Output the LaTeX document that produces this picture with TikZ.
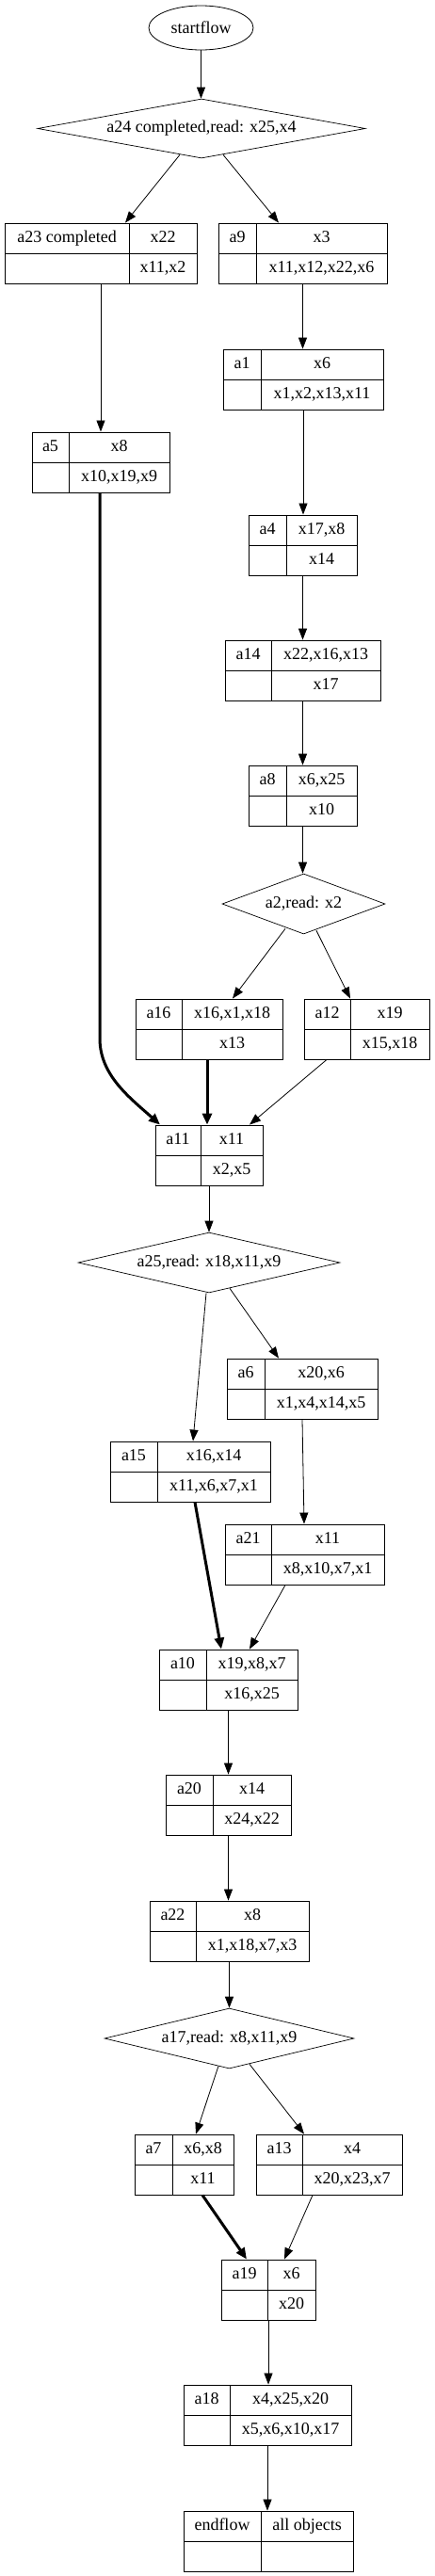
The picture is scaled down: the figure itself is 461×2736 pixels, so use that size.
\documentclass[tikz,border=0pt]{standalone}
\usepackage{fontspec}
\setmainfont{Liberation Serif}
\usetikzlibrary{arrows.meta,shapes.geometric}
\tikzset{
  recframe/.style={draw, rectangle, line width=0.9pt, inner sep=0pt},
  recline/.style={line width=0.9pt},
  txt/.style={inner sep=0pt, anchor=center, text height=12pt, text depth=4pt, font=\fontsize{18}{20}\selectfont},
  dia/.style={draw, diamond, line width=0.7pt, inner sep=0pt},
  flow/.style={-{Triangle[length=12pt,width=9pt]}, line width=0.8pt},
  boldflow/.style={-{Triangle[length=12pt,width=10pt]}, line width=3pt},
}
% #1 name, #2 left x, #3 right x, #4 divider x, #5 top y, #6 label, #7 top text, #8 bottom text
\newcommand\recbox[8]{%
  \node[recframe, minimum width={#3pt-#2pt}, minimum height=64pt] (#1) at ({(#2+#3)/2},{#5+32}) {};
  \draw[recline] (#4,#5) -- (#4,#5+64);
  \draw[recline] (#2,#5+32) -- (#3,#5+32);
  \node[txt] (#1-l) at ({(#2+#4)/2},{#5+16}) {#6};
  \node[txt] (#1-t) at ({(#4+#3)/2},{#5+16}) {#7};
  \if\relax\detokenize{#8}\relax\else
  \node[txt] (#1-b) at ({(#4+#3)/2},{#5+48}) {#8};
  \fi
}
\begin{document}
\begin{tikzpicture}[x=1pt,y=-1pt]
\useasboundingbox (0,0) rectangle (461,2736);

% start ellipse
\node[draw, ellipse, line width=0.8pt, minimum width=111pt, minimum height=47pt, inner sep=0pt,
      font=\fontsize{18}{20}\selectfont] (startflow) at (213.5,29.5) {startflow};

% diamonds
\node[dia, minimum width=348pt, minimum height=63pt, label={[txt]center:a24 completed,read: x25,x4}] (a24) at (214,136.5) {};
\node[dia, minimum width=173pt, minimum height=64pt, label={[txt]center:a2,read: x2}] (a2) at (322.5,960) {};
\node[dia, minimum width=278pt, minimum height=64pt, label={[txt]center:a25,read: x18,x11,x9}] (a25) at (222,1341) {};
\node[dia, minimum width=265pt, minimum height=64pt, label={[txt]center:a17,read: x8,x11,x9}] (a17) at (243.5,2165) {};

% records
\recbox{a23}{5}{209}{137}{237}{a23 completed}{x22}{x11,x2}
\recbox{a9}{232}{411}{272}{237}{a9}{x3}{x11,x12,x22,x6}
\recbox{a1}{237}{407}{277}{371}{a1}{x6}{x1,x2,x13,x11}
\recbox{a5}{34}{180}{73}{459}{a5}{x8}{x10,x19,x9}
\recbox{a4}{264}{379}{304}{547}{a4}{x17,x8}{x14}
\recbox{a14}{239}{404}{288}{680}{a14}{x22,x16,x13}{x17}
\recbox{a8}{264}{379}{304}{813}{a8}{x6,x25}{x10}
\recbox{a16}{144}{300}{193}{1061}{a16}{x16,x1,x18}{x13}
\recbox{a12}{323}{456}{372}{1061}{a12}{x19}{x15,x18}
\recbox{a11}{165}{279}{213}{1195}{a11}{x11}{x2,x5}
\recbox{a6}{241}{401}{281}{1443}{a6}{x20,x6}{x1,x4,x14,x5}
\recbox{a15}{117}{287}{167}{1531}{a15}{x16,x14}{x11,x6,x7,x1}
\recbox{a21}{239}{408}{288}{1619}{a21}{x11}{x8,x10,x7,x1}
\recbox{a10}{169}{316}{219}{1752}{a10}{x19,x8,x7}{x16,x25}
\recbox{a20}{176}{309}{226}{1885}{a20}{x14}{x24,x22}
\recbox{a22}{159}{328}{208}{2019}{a22}{x8}{x1,x18,x7,x3}
\recbox{a7}{143}{248}{183}{2267}{a7}{x6,x8}{x11}
\recbox{a13}{272}{427}{321}{2267}{a13}{x4}{x20,x23,x7}
\recbox{a19}{235}{335}{284}{2400}{a19}{x6}{x20}
\recbox{a18}{195}{373}{244}{2533}{a18}{x4,x25,x20}{x5,x6,x10,x17}
\recbox{endflow}{195}{375}{277}{2667}{endflow}{all objects}{}

% connectors
\draw[flow] (startflow.south) -- (startflow.south |- a24.north);
\draw[flow] ([xshift=-23pt,yshift=4pt]a24.south) -- ([xshift=26pt]a23.north);
\draw[flow] ([xshift=23pt,yshift=4pt]a24.south) -- ([xshift=-25.5pt]a9.north);
\draw[flow] (a23.south) -- (a23.south |- a5.north);
\draw[flow] (a9.south) -- (a9.south |- a1.north);
\draw[flow] (a1.south) -- (a1.south |- a4.north);
\draw[flow] (a4.south) -- (a4.south |- a14.north);
\draw[flow] (a14.south) -- (a14.south |- a8.north);
\draw[flow] (a8.south) -- (a8.south |- a2.north);
\draw[flow] ([xshift=-19.5pt,yshift=6pt]a2.south) -- ([xshift=25pt]a16.north);
\draw[flow] ([xshift=13.5pt,yshift=4pt]a2.south) -- ([xshift=-17.5pt]a12.north);
\draw[boldflow] ([xshift=-1pt]a5.south) -- (106,1103) .. controls (106,1142) and (138,1166) .. ([xshift=-52pt]a11.north);
\draw[boldflow] ([xshift=-2pt]a16.south) -- ([xshift=-2pt]a11.north);
\draw[flow] ([xshift=-42.5pt]a12.south) -- ([xshift=43pt]a11.north);
\draw[flow] (a11.south) -- (a11.south |- a25.north);
\draw[flow] ([xshift=-3pt]a25.south) -- ([xshift=3pt]a15.north);
\draw[flow] ([xshift=22pt,yshift=5pt]a25.south) -- ([xshift=-25pt]a6.north);
\draw[flow] (a6.south) -- ([xshift=-0.5pt]a21.north);
\draw[boldflow] ([xshift=5pt]a15.south) -- ([xshift=-7.5pt]a10.north);
\draw[flow] ([xshift=-20.5pt]a21.south) -- ([xshift=22.5pt]a10.north);
\draw[flow] (a10.south) -- (a10.south |- a20.north);
\draw[flow] (a20.south) -- (a20.south |- a22.north);
\draw[flow] (a22.south) -- (a22.south |- a17.north);
\draw[flow] ([xshift=-11.5pt,yshift=3pt]a17.south) -- ([xshift=12.5pt]a7.north);
\draw[flow] ([xshift=21.5pt,yshift=5pt]a17.south) -- ([xshift=-26.5pt]a13.north);
\draw[boldflow] ([xshift=19.5pt]a7.south) -- ([xshift=-23pt]a19.north);
\draw[flow] ([xshift=-17.5pt]a13.south) -- ([xshift=17pt]a19.north);
\draw[flow] (a19.south) -- (a19.south |- a18.north);
\draw[flow] (a18.south) -- (a18.south |- endflow.north);
\end{tikzpicture}
\end{document}
